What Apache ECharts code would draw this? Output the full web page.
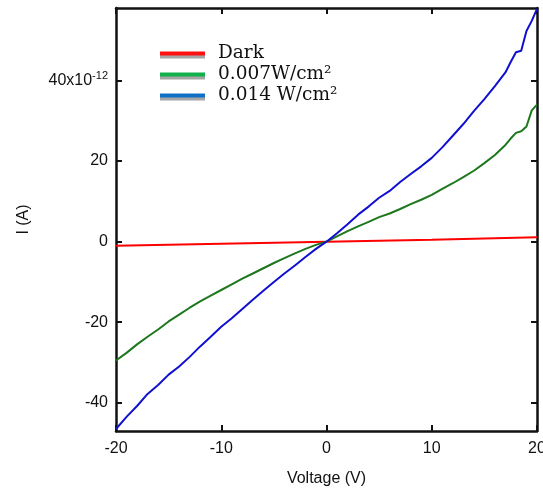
<!DOCTYPE html>
<html>
<head>
<meta charset="utf-8">
<script src="https://cdn.jsdelivr.net/npm/echarts@6/dist/echarts.min.js"></script>
<style>html,body{margin:0;padding:0;background:#fff}#c{width:543px;height:493px}</style>
</head>
<body>
<div id="c"></div>
<script>
// Voltage (V) for the illuminated curves
const voltage = [-20,-19,-18,-17,-16,-15,-14,-13,-12,-11,-10,-9,-8,-7,-6,-5,-4,-3,-2,-1,0,1,2,3,4,5,6,7,8,9,10,11,12,13,14,15,16,17,17.5,18,18.5,19,19.5,20];
// 0.014 W/cm2 current (x1e-12 A)
const blue014 = [-46.5,-43.5,-40.8,-37.8,-35.6,-33.0,-31.0,-28.6,-26.0,-23.6,-21.1,-19.0,-16.7,-14.4,-12.2,-10.0,-7.9,-5.9,-3.8,-1.8,0,2.1,4.3,6.7,8.7,10.9,12.6,14.8,16.8,18.7,20.8,23.4,26.3,29.2,32.4,35.4,38.6,42.0,44.6,47.0,47.4,52.3,54.8,57.8];
// 0.007 W/cm2 current (x1e-12 A)
const green007 = [-29.5,-27.6,-25.5,-23.6,-21.8,-19.8,-18.1,-16.4,-14.8,-13.4,-12.0,-10.6,-9.2,-7.9,-6.6,-5.3,-4.1,-2.9,-1.8,-0.8,0,1.3,2.6,3.8,4.9,6.1,7.0,8.1,9.3,10.4,11.6,13.1,14.5,16.0,17.6,19.5,21.5,24.0,25.6,27.0,27.4,28.6,32.6,34.0];
// Dark current
const darkV = [-20,-10,0,10,20];
const dark = [-1.0,-0.5,0,0.5,1.1];
// Tick labels
const xTicks = [-20,-10,0,10,20];
const yTicks = [-40,-20,0,20,40];
const names = ['Dark','0.007W/cm\u00b2','0.014 W/cm\u00b2'];

const zip = (xs, ys) => xs.map((x, i) => [x, ys[i]]);

const chart = echarts.init(document.getElementById('c'));
const axisLine = {show:true, onZero:false, lineStyle:{color:'#111', width:2.5}};
const tick = {show:true, inside:true, length:6, lineStyle:{color:'#111', width:2}};
chart.setOption({
  animation:false,
  grid:{left:116, right:6, top:8, bottom:62, outerBoundsMode:'none', containLabel:false},
  legend:{
    orient:'vertical', left:155, top:39, itemWidth:45, itemHeight:4, itemGap:2,
    textStyle:{fontFamily:'DejaVu Serif', fontSize:18.5, color:'#111', padding:[0,0,0,8]},
    data:[
      {name:names[0], icon:'rect', itemStyle:{color:'#ff1010', shadowColor:'#a6a6a6', shadowOffsetY:3, shadowBlur:0}},
      {name:names[1], icon:'rect', itemStyle:{color:'#10b04a', shadowColor:'#a6a6a6', shadowOffsetY:3, shadowBlur:0}},
      {name:names[2], icon:'rect', itemStyle:{color:'#1070c8', shadowColor:'#a6a6a6', shadowOffsetY:3, shadowBlur:0}}
    ]
  },
  xAxis:[{
    type:'value', min:-20, max:20,
    name:'Voltage (V)', nameLocation:'middle', nameGap:40,
    nameTextStyle:{fontFamily:'Liberation Sans', fontSize:16, color:'#111'},
    axisLine:axisLine, axisTick:Object.assign({customValues:xTicks}, tick),
    axisLabel:{customValues:xTicks, fontFamily:'Liberation Sans', fontSize:16, color:'#111', margin:10},
    splitLine:{show:false}
  },{
    type:'value', position:'top', min:-20, max:20,
    axisLine:axisLine, axisTick:Object.assign({customValues:xTicks}, tick),
    axisLabel:{show:false}, splitLine:{show:false}
  }],
  yAxis:[{
    type:'value', min:-47, max:58,
    name:'I (A)', nameLocation:'middle', nameGap:84,
    nameTextStyle:{fontFamily:'Liberation Sans', fontSize:16, color:'#111'},
    axisLine:axisLine, axisTick:Object.assign({customValues:yTicks}, tick),
    axisLabel:{customValues:yTicks, fontFamily:'Liberation Sans', fontSize:16, color:'#111', margin:8,
      formatter:v => v === 40 ? '{n|40x10}{s|-12}' : String(v),
      rich:{n:{fontFamily:'Liberation Sans', fontSize:16, color:'#111'},
            s:{fontFamily:'Liberation Sans', fontSize:11, color:'#111', verticalAlign:'top', padding:[0,0,10,0]}}},
    splitLine:{show:false}
  },{
    type:'value', position:'right', min:-47, max:58,
    axisLine:axisLine, axisTick:Object.assign({customValues:yTicks}, tick),
    axisLabel:{show:false}, splitLine:{show:false}
  }],
  series:[
    {name:names[0], type:'line', data:zip(darkV, dark), showSymbol:false, lineStyle:{color:'#ff0000', width:2}, itemStyle:{color:'#ff0000'}},
    {name:names[1], type:'line', data:zip(voltage, green007), showSymbol:false, lineStyle:{color:'#1d781d', width:2}, itemStyle:{color:'#1d781d'}},
    {name:names[2], type:'line', data:zip(voltage, blue014), showSymbol:false, lineStyle:{color:'#1010d0', width:2}, itemStyle:{color:'#1010d0'}}
  ]
});
</script>
</body>
</html>
